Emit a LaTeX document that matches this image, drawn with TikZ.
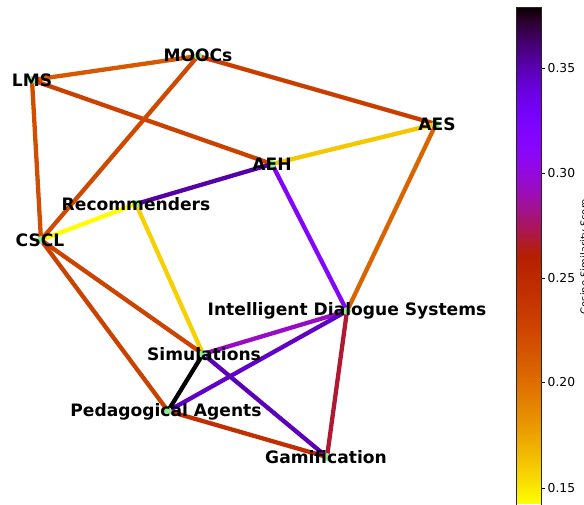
\documentclass[tikz,border=0pt]{standalone}
\usepackage{fontspec}
\setmainfont{DejaVu Sans}
\newcommand{\gpdeft}[2]{%
  \pgfmathsetmacro{\gpT}{min(1,max(0,#2))}%
  \pgfmathsetmacro{\gpR}{sqrt(\gpT)}%
  \pgfmathsetmacro{\gpG}{\gpT*\gpT*\gpT}%
  \pgfmathsetmacro{\gpB}{max(0,sin(360*\gpT))}%
  \definecolor{#1}{rgb}{\gpR,\gpG,\gpB}}
\newcommand{\gpdefv}[2]{%
  \pgfmathsetmacro{\gpV}{(0.3788-#2)/(0.3788-0.1424)}%
  \gpdeft{#1}{\gpV}}
\tikzset{
  edge/.style={line width=4.3pt},
  dot/.style={circle, fill={rgb,255:red,144;green,238;blue,144}, inner sep=0pt, minimum size=8pt},
  lab/.style={inner sep=0pt, font=\bfseries\fontsize{17.1}{17.1}\selectfont},
  ticklab/.style={inner sep=0pt, anchor=west, font=\fontsize{12.3}{12.3}\selectfont}
}
\begin{document}
\begin{tikzpicture}[x=1pt,y=-1pt]
\useasboundingbox (0,0) rectangle (584,504);
% node positions
\coordinate (pLMS) at (32,80);
\coordinate (pMOOCs) at (198,56);
\coordinate (pAES) at (436,124);
\coordinate (pAEH) at (272,164);
\coordinate (pRec) at (136,204);
\coordinate (pCSCL) at (41,240);
\coordinate (pIDS) at (347,311);
\coordinate (pSim) at (203,354);
\coordinate (pPA) at (168,411);
\coordinate (pGam) at (327,457);
% edges
\foreach \a/\b/\v in {
  LMS/MOOCs/0.213, LMS/AEH/0.229, LMS/CSCL/0.220,
  MOOCs/AES/0.232, MOOCs/CSCL/0.223,
  AES/AEH/0.161, AES/IDS/0.206,
  AEH/Rec/0.352, AEH/IDS/0.315,
  Rec/CSCL/0.143, Rec/Sim/0.158,
  CSCL/Sim/0.227, CSCL/PA/0.229,
  IDS/Sim/0.294, IDS/PA/0.345, IDS/Gam/0.268,
  Sim/PA/0.3788, Sim/Gam/0.348, PA/Gam/0.244}{
  \gpdefv{ec}{\v}
  \draw[edge, draw=ec] (p\a) -- (p\b);
}
% dots
\foreach \n in {LMS,MOOCs,AES,AEH,Rec,CSCL,IDS,Sim,PA,Gam}{
  \node[dot] (\n) at (p\n) {};
}
% labels
\node[lab] (lLMS) at (32,80) {LMS};
\node[lab] (lMOOCs) at (198,55) {MOOCs};
\node[lab] (lAES) at (437,124) {AES};
\node[lab] (lAEH) at (272,164) {AEH};
\node[lab] (lRec) at (136,204) {Recommenders};
\node[lab] (lCSCL) at (40,240) {CSCL};
\node[lab] (lIDS) at (347,311) {Intelligent Dialogue Systems};
\node[lab] (lSim) at (204,354) {Simulations};
\node[lab] (lPA) at (166,412) {Pedagogical Agents};
\node[lab] (lGam) at (326,457) {Gamification};
% colorbar
\foreach \i in {0,...,247}{
  \pgfmathsetmacro{\yy}{7.5+2*\i}
  \pgfmathsetmacro{\tt}{(\i+0.5)/248}
  \gpdeft{cb}{\tt}
  \fill[cb] (516,\yy) rectangle (541.5,\yy+2.2);
}
\draw[line width=0.8pt, draw=black!85] (516,7.5) -- (541.5,7.5);
\draw[line width=0.8pt, draw=black!85] (516,7.5) -- (516,505);
\draw[line width=0.8pt, draw=black!85] (541.5,7.5) -- (541.5,505);
\foreach \y/\t in {68/0.35,173/0.30,278/0.25,382.5/0.20,488/0.15}{
  \draw[line width=0.8pt] (541.5,\y) -- (545,\y);
  \node[ticklab] at (547.5,\y) {\t};
}
\node[rotate=90, anchor=north, inner sep=0pt, font=\fontsize{10}{10}\selectfont] (cblab) at (580,256.5) {Cosine Similarity Score};
\end{tikzpicture}
\end{document}
